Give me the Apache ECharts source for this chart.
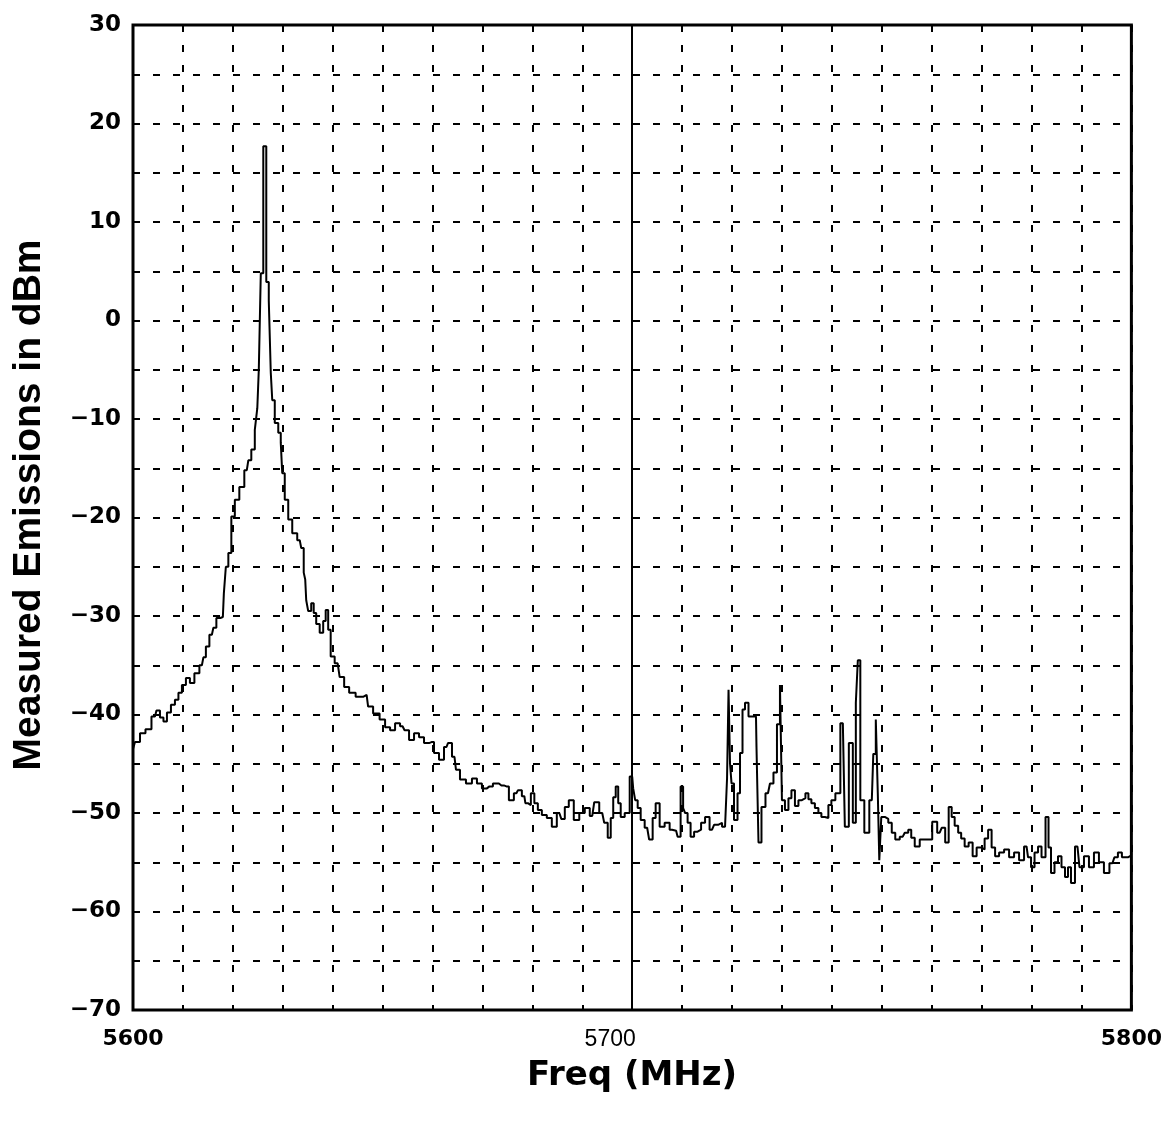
<!DOCTYPE html>
<html>
<head>
<meta charset="utf-8">
<title>Measured Emissions</title>
<script src="https://cdn.jsdelivr.net/npm/echarts@6/dist/echarts.min.js"></script>
<style>
  html, body { margin: 0; padding: 0; background: #fff; }
  #chart { width: 1165px; height: 1121px; }
</style>
</head>
<body>
<div id="chart"></div>
<script>
// spectrum trace (MHz, dBm)
var freqMHz = [
  5600.0, 5600.8, 5602.0, 5603.0, 5604.4, 5605.0, 5605.8, 5606.4, 5607.2, 5608.0,
  5608.8, 5609.4, 5610.2, 5611.0, 5611.8, 5612.8, 5613.8, 5614.4, 5614.8, 5615.8,
  5616.4, 5617.0, 5618.0, 5618.4, 5618.8, 5619.4, 5620.0, 5620.8, 5621.8, 5622.8,
  5623.4, 5624.0, 5624.8, 5625.0, 5625.4, 5625.8, 5626.4, 5627.0, 5627.4, 5627.8,
  5628.0, 5628.8, 5629.4, 5629.8, 5630.0, 5630.8, 5631.4, 5632.4, 5633.4, 5634.0,
  5634.4, 5634.6, 5634.8, 5635.4, 5636.0, 5636.4, 5637.0, 5637.8, 5638.4, 5638.8,
  5639.4, 5639.8, 5641.0, 5641.8, 5642.8, 5643.8, 5645.4, 5646.8, 5647.4, 5648.8,
  5650.0, 5651.0, 5652.0, 5653.0, 5654.0, 5654.8, 5655.8, 5656.8, 5657.8, 5658.8,
  5659.8, 5660.8, 5661.8, 5662.8, 5663.4, 5664.4, 5665.0, 5666.0, 5667.4, 5668.4,
  5669.4, 5670.4, 5671.4, 5672.8, 5673.8, 5674.8, 5675.8, 5676.8, 5677.4, 5678.4,
  5678.8, 5679.4, 5680.0, 5680.8, 5681.4, 5682.4, 5683.4, 5684.4, 5685.4, 5686.2,
  5686.8, 5687.8, 5688.8, 5690.0, 5691.0, 5692.0, 5692.8, 5694.0, 5694.8, 5695.4,
  5696.0, 5696.4, 5697.0, 5697.4, 5698.0, 5699.0, 5700.0, 5700.4, 5700.8, 5701.4,
  5702.0, 5703.0, 5703.8, 5704.4, 5705.0, 5706.0, 5707.0, 5708.0, 5708.8, 5709.4,
  5710.0, 5710.4, 5710.8, 5711.4, 5712.0, 5712.8, 5713.4, 5714.2, 5715.0, 5716.0,
  5716.8, 5717.6, 5718.4, 5718.8, 5719.2, 5719.4, 5719.8, 5720.0, 5720.8, 5721.4,
  5721.8, 5722.4, 5722.8, 5723.8, 5724.8, 5725.0, 5725.6, 5726.2, 5727.2, 5728.0,
  5728.6, 5729.4, 5729.8, 5730.2, 5731.0, 5731.6, 5732.2, 5733.0, 5733.6, 5734.4,
  5735.0, 5735.6, 5736.2, 5737.0, 5737.6, 5738.2, 5739.0, 5739.6, 5740.2, 5741.2,
  5742.2, 5743.0, 5743.8, 5744.6, 5745.0, 5745.4, 5746.0, 5747.0, 5748.0, 5748.6,
  5749.0, 5749.4, 5749.6, 5750.2, 5751.0, 5751.6, 5752.4, 5753.0, 5754.2, 5755.0,
  5755.6, 5756.2, 5757.0, 5758.2, 5759.6, 5760.6, 5761.6, 5762.4, 5763.0, 5763.8,
  5764.2, 5765.0, 5765.6, 5766.2, 5767.0, 5767.8, 5768.6, 5769.4, 5770.2, 5771.0,
  5771.6, 5772.4, 5773.0, 5774.0, 5775.0, 5776.0, 5777.0, 5778.0, 5779.0, 5779.6,
  5780.2, 5781.0, 5781.6, 5782.4, 5783.2, 5783.6, 5784.2, 5785.0, 5785.6, 5786.4,
  5787.0, 5787.6, 5788.2, 5789.2, 5790.0, 5791.0, 5792.0, 5793.0, 5794.0, 5795.0,
  5796.2, 5797.0, 5797.6, 5798.6, 5800.0
];
var levelDbm = [
  -43.5, -42.8, -41.9, -41.5, -40.2, -39.6, -40.3, -40.7, -39.8, -39.0,
  -38.5, -37.8, -37.0, -36.3, -36.8, -35.8, -35.0, -34.2, -33.1, -31.9,
  -31.2, -30.2, -30.1, -27.7, -25.0, -23.6, -19.9, -18.2, -16.9, -15.2,
  -14.2, -13.1, -11.1, -8.9, -5.0, 4.8, 17.7, 3.9, 2.0, -5.3,
  -8.1, -10.4, -11.4, -12.4, -15.5, -18.2, -20.2, -21.6, -22.3, -23.1,
  -25.6, -26.3, -28.4, -29.5, -28.7, -29.7, -30.8, -31.7, -30.5, -29.4,
  -31.4, -34.1, -34.8, -36.2, -37.2, -37.8, -38.2, -38.0, -39.2, -39.9,
  -40.5, -41.3, -41.6, -40.9, -41.2, -41.6, -42.6, -41.9, -42.3, -42.9,
  -42.8, -43.9, -44.6, -43.3, -42.9, -44.3, -45.6, -46.6, -47.0, -46.5,
  -47.0, -47.5, -47.3, -47.0, -47.2, -47.3, -48.7, -48.0, -47.7, -48.3,
  -49.0, -49.2, -48.0, -49.0, -49.7, -50.2, -50.5, -51.4, -50.0, -50.6,
  -49.4, -48.7, -50.7, -50.0, -49.5, -50.3, -48.9, -50.0, -51.0, -52.5,
  -50.5, -48.4, -47.3, -49.0, -50.4, -50.0, -46.3, -47.5, -48.7, -49.5,
  -50.7, -51.5, -52.7, -50.5, -49.0, -51.4, -51.0, -51.7, -51.8, -52.4,
  -47.3, -49.5, -50.0, -51.0, -52.4, -51.9, -51.7, -51.0, -50.4, -51.7,
  -51.2, -51.0, -51.4, -51.4, -46.5, -37.5, -45.0, -47.0, -50.7, -48.0,
  -43.9, -39.5, -38.8, -40.2, -40.2, -43.3, -53.0, -49.4, -48.0, -47.0,
  -45.9, -41.0, -37.0, -48.7, -49.7, -48.5, -47.7, -49.3, -48.7, -48.5,
  -48.0, -48.6, -49.0, -49.5, -50.0, -50.4, -50.5, -49.2, -48.7, -48.0,
  -40.9, -51.4, -42.9, -51.0, -38.8, -34.5, -48.7, -52.0, -48.7, -44.0,
  -40.5, -48.0, -54.8, -50.4, -50.6, -51.0, -52.0, -52.7, -52.4, -52.0,
  -51.7, -52.5, -53.4, -52.7, -52.7, -50.9, -52.0, -51.5, -53.0, -49.4,
  -50.4, -51.3, -52.0, -52.6, -53.4, -53.0, -54.4, -53.5, -53.7, -52.6,
  -51.7, -53.5, -54.4, -54.0, -53.7, -54.5, -54.0, -54.8, -53.4, -54.5,
  -55.5, -54.0, -53.4, -54.5, -50.4, -53.5, -56.1, -55.0, -54.4, -55.5,
  -56.5, -55.5, -57.1, -53.4, -55.5, -54.4, -55.5, -54.0, -55.0, -56.1,
  -55.1, -54.5, -54.0, -54.5, -54.3
];
var xTickLabels = [5600, 5700, 5800];
var yTickLabels = [30, 20, 10, 0, -10, -20, -30, -40, -50, -60, -70];

(function () {
    var myChart = echarts.init(document.getElementById('chart'));

    var traceData = freqMHz.map(function (f, i) { return [f, levelDbm[i]]; });
    var gridDash = { color: '#000', width: 2, type: [7, 13] };
    var wideBold = '"DejaVu Sans", Verdana, sans-serif';

    var option = {
        backgroundColor: '#fff',
        animation: false,
        grid: {
            left: 133, top: 25, width: 999, height: 985,
            show: true, borderColor: '#000', borderWidth: 3,
            backgroundColor: 'transparent'
        },
        xAxis: {
            type: 'value',
            min: 5600, max: 5800, interval: 10,
            axisLine: { show: false },
            axisTick: { show: false },
            splitLine: { show: true, lineStyle: gridDash },
            axisLabel: {
                margin: 18,
                showMinLabel: true, showMaxLabel: true,
                fontFamily: wideBold, fontSize: 22, color: '#000',
                formatter: function (v) {
                    if (xTickLabels.indexOf(v) < 0) return '';
                    return v === 5700 ? '{n|' + v + '}' : '{b|' + v + '}';
                },
                rich: {
                    b: { fontWeight: 'bold', fontSize: 22, color: '#000', fontFamily: wideBold },
                    n: {
                        fontWeight: 'normal', fontSize: 23, color: '#000',
                        fontFamily: '"Liberation Sans", Arial, sans-serif',
                        padding: [0, 44, 0, 0]
                    }
                }
            }
        },
        yAxis: {
            type: 'value',
            min: -70, max: 30, interval: 5,
            axisLine: { show: false },
            axisTick: { show: true, inside: true, length: 6, lineStyle: { color: '#000', width: 2 } },
            splitLine: { show: true, lineStyle: gridDash },
            axisLabel: {
                margin: 12,
                fontFamily: wideBold,
                fontWeight: 'bold', fontSize: 23, color: '#000',
                formatter: function (v) {
                    if (yTickLabels.indexOf(v) < 0) return '';
                    return v < 0 ? '\u2212' + (-v) : String(v);
                }
            }
        },
        graphic: [
            {
                type: 'text',
                x: 29, y: 505, rotation: Math.PI / 2,
                style: {
                    text: 'Measured Emissions in dBm',
                    x: 0, y: 0,
                    align: 'center', verticalAlign: 'middle',
                    font: 'bold 39px "Liberation Sans", Arial, sans-serif',
                    fill: '#000'
                }
            },
            {
                type: 'text',
                x: 632, y: 1076,
                style: {
                    text: 'Freq (MHz)',
                    x: 0, y: 0,
                    align: 'center', verticalAlign: 'middle',
                    font: 'bold 34px "DejaVu Sans", Verdana, sans-serif',
                    fill: '#000'
                }
            }
        ],
        series: [
            {
                type: 'line',
                step: 'middle',
                showSymbol: false,
                symbol: 'none',
                data: traceData,
                lineStyle: { color: '#000', width: 2 },
                markLine: {
                    silent: true,
                    symbol: 'none',
                    label: { show: false },
                    lineStyle: { color: '#000', width: 2, type: 'solid' },
                    data: [{ xAxis: 5700 }]
                }
            }
        ]
    };

    myChart.setOption(option);
})();
</script>
</body>
</html>
